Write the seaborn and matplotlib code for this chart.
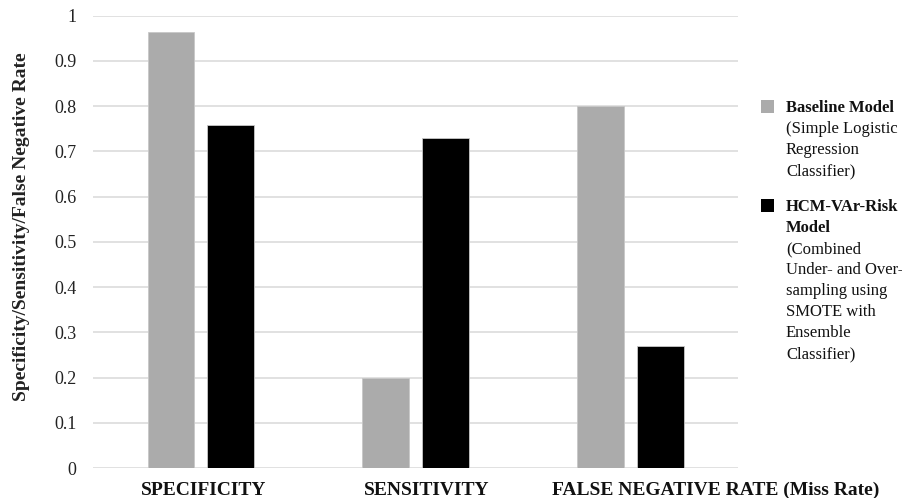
import matplotlib
matplotlib.use("Agg")
import matplotlib.pyplot as plt
import matplotlib.transforms as mtransforms
import seaborn as sns
import pandas as pd
from matplotlib.patches import Rectangle

categories = ["SPECIFICITY", "SENSITIVITY", "FALSE NEGATIVE RATE (Miss Rate)"]
models = ["Baseline Model", "HCM-VAr-Risk Model"]
baseline_values = [0.963, 0.20, 0.80]
hcm_values = [0.757, 0.73, 0.27]
y_ticks = [0, 0.1, 0.2, 0.3, 0.4, 0.5, 0.6, 0.7, 0.8, 0.9, 1]
y_tick_labels = ["0", "0.1", "0.2", "0.3", "0.4", "0.5", "0.6", "0.7", "0.8", "0.9", "1"]
colors = ["#ababab", "#000000"]
legend_bold = [["Baseline Model"], ["HCM-VAr-Risk", "Model"]]
legend_body = [["(Simple Logistic", "Regression", "Classifier)"],
               ["(Combined", "Under- and Over-", "sampling using", "SMOTE with", "Ensemble", "Classifier)"]]

df = pd.DataFrame({
    "Metric": categories * 2,
    "Model": [models[0]] * 3 + [models[1]] * 3,
    "Value": baseline_values + hcm_values,
})

sns.set_theme(style="white")
plt.rcParams["font.family"] = ["Liberation Serif", "DejaVu Serif"]

W, H = 903, 498
fig = plt.figure(figsize=(W / 100, H / 100), dpi=100)
ax = fig.add_axes([93.4 / W, 1 - 468 / H, (738 - 93.4) / W, (468 - 15.5) / H])

sns.barplot(data=df, x="Metric", y="Value", hue="Model", order=categories,
            hue_order=models, palette=colors, width=0.558, gap=0.222,
            edgecolor="#c8c8c8", linewidth=0.6, legend=False, ax=ax, zorder=3)

ax.set_xlim(-0.5, 2.5)
ax.set_ylim(0, 1)
ax.set_yticks(y_ticks)
ax.set_yticklabels(y_tick_labels)
ax.yaxis.grid(True, color="#dcdcdc", linewidth=1.2, zorder=0)
ax.xaxis.grid(False)
ax.set_axisbelow(True)
for s in ax.spines.values():
    s.set_visible(False)
ax.tick_params(axis="y", length=0, pad=12, labelsize=13, labelcolor="#222222")
ax.tick_params(axis="x", length=0, pad=10, labelsize=14, labelcolor="#111111")
x_offsets_px = [3, 11, 85]
for lbl, dx in zip(ax.get_xticklabels(), x_offsets_px):
    lbl.set_fontweight("bold")
    lbl.set_transform(lbl.get_transform() +
                      mtransforms.ScaledTranslation(dx / 100, 0, fig.dpi_scale_trans))
ax.set_xlabel("")
ax.set_ylabel("Specificity/Sensitivity/False Negative Rate", fontsize=14,
              fontweight="bold", color="#222222")
ax.yaxis.set_label_coords(-(93.4 - 30) / (738 - 93.4), (468 - 227) / (468 - 15.5))

# legend built manually (mixed bold/regular text)
starts = [106.5, 205.5]
step = 21
for i in range(2):
    yc = starts[i]
    fig.patches.append(Rectangle((760.7 / W, 1 - (yc + 6.5) / H), 13 / W, 13 / H,
                                 transform=fig.transFigure, facecolor=colors[i],
                                 edgecolor="none"))
    lines = [(t, "bold") for t in legend_bold[i]] + [(t, "normal") for t in legend_body[i]]
    for j, (t, w) in enumerate(lines):
        fig.text(786 / W, 1 - (yc + j * step + 5.5) / H, t, fontsize=12, fontweight=w,
                 color="#111111", ha="left", va="baseline")

fig.savefig("out.png", dpi=100)
